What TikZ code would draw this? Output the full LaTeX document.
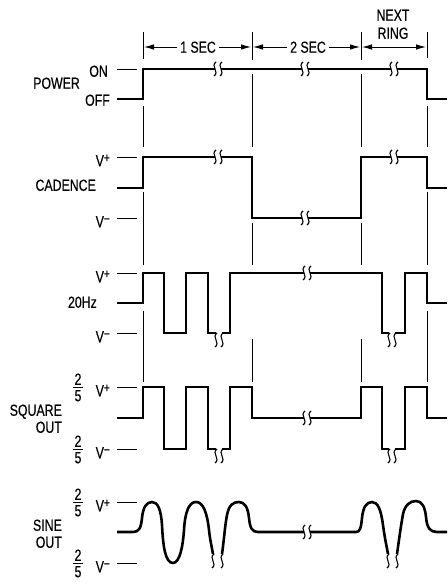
\documentclass[tikz,border=0pt]{standalone}
\usepackage{fontspec}
\setmainfont{Liberation Sans}[FakeStretch=0.77,FakeBold=0.4]
\usetikzlibrary{arrows.meta}
\tikzset{
  trace/.style={line width=2.6pt},
  guide/.style={line width=0.9pt},
  wig/.style={line width=1.1pt},
  lbl/.style={inner sep=0pt, text height=11.5pt, text depth=0pt, font=\fontsize{16}{18}\selectfont},
  dim/.style={line width=0.9pt, -{Latex[length=10pt,width=5.5pt]}, shorten >=1pt},
  brk/.pic={\draw[wig] (1,-7) .. controls (-5,-3) and (5,3) .. (-1,7);},
  lowbrk/.pic={\draw[wig] (1,0) .. controls (-5,4) and (5,10) .. (-1,14);}
}
\newcommand\wigpair[2]{\pic at ({#1-3},#2) {brk}; \pic at ({#1+3},#2) {brk};}
\newcommand\lowpair[3]{\pic at (#1,#3) {lowbrk}; \pic at (#2,#3) {lowbrk};}
\newcommand\supsign[1]{\raisebox{4pt}{\fontsize{13}{13}\selectfont #1}}
\begin{document}
\begin{tikzpicture}[x=1pt,y=-1pt]
\useasboundingbox (0,0) rectangle (447,585);

% ---- guide lines
\foreach \x/\a in {143/59,252/60,361/60,427/58} \draw[guide] (\x,32) -- (\x,\a);
\foreach \x in {143,427} {
  \draw[guide] (\x,106) -- (\x,147);
  \draw[guide] (\x,192) -- (\x,265);
  \draw[guide] (\x,311) -- (\x,382);
}
\foreach \x in {252,361} {
  \draw[guide] (\x,74) -- (\x,147);
  \draw[guide] (\x,223) -- (\x,265);
  \draw[guide] (\x,339) -- (\x,382);
}
% ---- ticks
\foreach \y in {69,157,218,273,333,387,449,502,563} \draw[guide] (117,\y) -- (137,\y);

% ---- dimension row
\node[lbl] (s1) at (198,47) {1 SEC};
\node[lbl] (s2) at (308,47) {2 SEC};
\node[lbl] (nx) at (393,15) {NEXT};
\node[lbl] (rg) at (393,33) {RING};
\coordinate (a1) at (143,47);
\coordinate (a2) at (252,47);
\coordinate (a3) at (361,47);
\coordinate (a4) at (427,47);
\draw[dim] ([xshift=-3pt]s1.west) -- (a1);
\draw[dim] ([xshift=3pt]s1.east) -- (a2);
\draw[dim] ([xshift=-3pt]s2.west) -- (a2);
\draw[dim] ([xshift=3pt]s2.east) -- (a3);
\draw[dim, {Latex[length=10pt,width=5.5pt]}-{Latex[length=10pt,width=5.5pt]}, shorten <=1pt] (a3) -- (a4);

% ---- labels
\node[lbl, anchor=east] (pw) at (80,83) {POWER};
\node[lbl, anchor=east] (on) at (108,71) {ON};
\node[lbl, anchor=east] (off) at (110,100) {OFF};
\node[lbl, anchor=east] (cad) at (96,185) {CADENCE};
\node[lbl, anchor=east] (hz) at (97,302) {20Hz};
\node[lbl, anchor=east] (sq) at (62,410) {SQUARE};
\node[lbl, anchor=east] (sqo) at (62,427) {OUT};
\node[lbl, anchor=east] (sn) at (62,525) {SINE};
\node[lbl, anchor=east] (sno) at (62,542) {OUT};
\foreach \y/\n in {157/cp,273/hp,387/sp,502/np} \node[lbl, anchor=east] (\n) at (110,\y+3.5) {V\supsign{+}};
\foreach \y/\n in {218/cm,333/hm,449/sm,563/nm} \node[lbl, anchor=east] (\n) at (110,\y+3.5) {V\supsign{−}};
\foreach \y/\n in {387/f1,449/f2,502/f3,563/f4} {
  \node[lbl] (\n t) at (78,\y-8) {2};
  \node[lbl] (\n b) at (78,\y+8.5) {5};
  \draw[guide] (73,\y) -- (83,\y);
}

% ---- POWER
\draw[trace] (117,99) -- (143,99) -- (143,69) -- (215,69);
\draw[trace] (221,69) -- (302,69);
\draw[trace] (308,69) -- (391,69);
\draw[trace] (397,69) -- (427,69) -- (427,99) -- (447,99);
\wigpair{218}{69}\wigpair{305}{69}\wigpair{394}{69}

% ---- CADENCE
\draw[trace] (117,188) -- (143,188) -- (143,157) -- (215,157);
\draw[trace] (221,157) -- (252,157) -- (252,218) -- (302,218);
\draw[trace] (308,218) -- (361,218) -- (361,157) -- (391,157);
\draw[trace] (397,157) -- (427,157) -- (427,188) -- (447,188);
\wigpair{218}{157}\wigpair{305}{218}\wigpair{394}{157}

% ---- 20Hz
\draw[trace] (117,303) -- (143,303) -- (143,273) -- (164,273) -- (164,333) -- (186,333) -- (186,273) -- (208,273) -- (208,333) -- (216,333);
\draw[trace] (222,333) -- (230,333) -- (230,273) -- (304,273);
\draw[trace] (310,273) -- (382,273) -- (382,333) -- (389,333);
\draw[trace] (395,333) -- (405,333) -- (405,273) -- (427,273) -- (427,303) -- (447,303);
\lowpair{216}{222}{333}\lowpair{389}{395}{333}\wigpair{307}{273}

% ---- SQUARE OUT
\draw[trace] (117,418) -- (143,418) -- (143,387) -- (164,387) -- (164,449) -- (186,449) -- (186,387) -- (208,387) -- (208,449) -- (216,449);
\draw[trace] (222,449) -- (230,449) -- (230,387) -- (252,387) -- (252,418) -- (304,418);
\draw[trace] (310,418) -- (361,418) -- (361,387) -- (382,387) -- (382,449) -- (389,449);
\draw[trace] (395,449) -- (405,449) -- (405,387) -- (427,387) -- (427,418) -- (447,418);
\lowpair{216}{222}{449}\lowpair{389}{395}{449}\wigpair{307}{418}

% ---- SINE OUT
\draw[trace] (117,532) -- (133,532) .. controls (139,532) and (141,528) .. (142,518)
  .. controls (143,508) and (146,502) .. (152,502)
  .. controls (158,502) and (161,510) .. (162,525)
  .. controls (163,545) and (165,563) .. (173,563)
  .. controls (180,563) and (183,545) .. (184,530)
  .. controls (185,512) and (189,502) .. (196,502)
  .. controls (203,502) and (207,512) .. (209,530)
  .. controls (210,540) and (212,548) .. (213,554);
\draw[trace] (222,554) .. controls (224,540) and (225,525) .. (227,515)
  .. controls (229,505) and (233,502) .. (239,502)
  .. controls (245,502) and (248,508) .. (249,518)
  .. controls (250,528) and (252,532) .. (258,532) -- (304,532);
\draw[trace] (310,532) -- (356,532) .. controls (360,532) and (361,528) .. (362,518)
  .. controls (363,508) and (366,502) .. (372,502)
  .. controls (378,502) and (381,510) .. (383,525)
  .. controls (385,540) and (387,548) .. (388,554);
\draw[trace] (397,554) .. controls (399,540) and (401,525) .. (403,514)
  .. controls (405,505) and (410,501) .. (416,501)
  .. controls (422,501) and (425,507) .. (426,517)
  .. controls (427,528) and (430,532) .. (437,532) -- (447,532);
\lowpair{213}{222}{554}\lowpair{388}{397}{554}\wigpair{307}{532}
\end{tikzpicture}
\end{document}
